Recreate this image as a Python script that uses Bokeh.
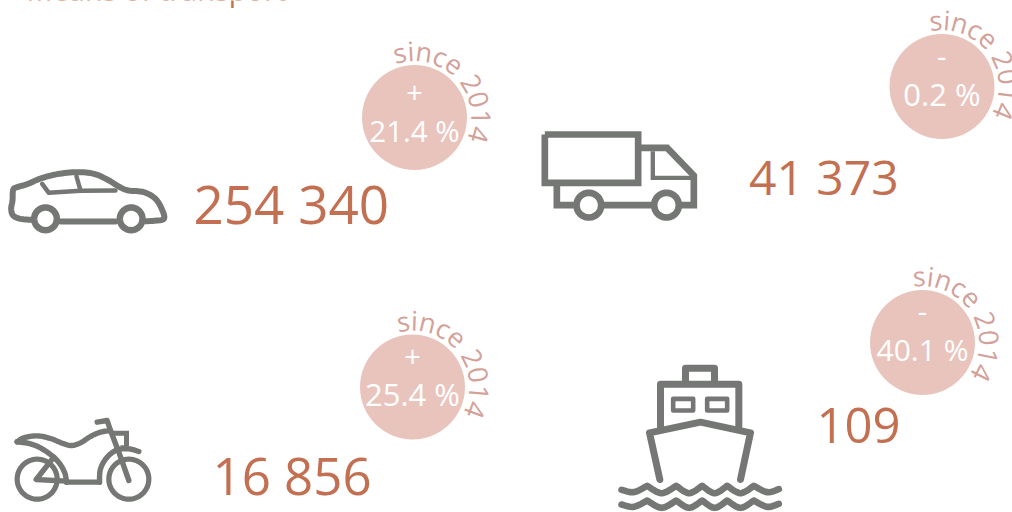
import math
from bokeh.plotting import figure
from bokeh.models import ColumnDataSource
from bokeh.core.properties import value
from bokeh.embed import file_html
from bokeh.resources import INLINE

# ---- data ----
title = "Means of transport"
categories = ["Cars", "Trucks", "Motorcycles", "Ships"]
counts = ["254 340", "41 373", "16 856", "109"]
signs = ["+", "-", "+", "-"]
changes = ["21.4 %", "0.2 %", "25.4 %", "40.1 %"]
since = "since 2014"

# ---- layout (pixels) ----
W, H = 1012, 512
FONT = value("Open Sans")
GREY, RUST, DISC, ARC = "#757775", "#c36f52", "#e9c4bd", "#d3a199"
BASE = 0.4  # how far the browser drops an alphabetic baseline, in ems
count_x = [193, 748.5, 212, 816]
count_y = [224, 195.5, 494.5, 445]
count_size = [53, 48, 51, 49]
disc_x = [414, 941.5, 412, 922]
disc_y = [117, 86, 386.5, 342]
disc_r = 52.5
sign_dy = [-25, -30, -30.5, -31]
change_dy = [25, 20, 19.5, 19]
change_size = [29.5, 31, 31, 30]
arc_start = [-13, -5.5, -8, -3]
arc_end = [105, 112, 110, 117]
arc_size = 27

p = figure(width=W, height=H, x_range=(0, W), y_range=(H, 0), output_backend="svg",
           toolbar_location=None, min_border=0, outline_line_color=None,
           background_fill_color="white", border_fill_color="white")
p.axis.visible = False
p.grid.visible = False


def smooth(pts, n=8):
    out = []
    P = [pts[0]] + list(pts) + [pts[-1]]
    for i in range(1, len(P) - 2):
        a, b, c, d = P[i - 1], P[i], P[i + 1], P[i + 2]
        for k in range(n):
            t = k / n
            out.append(tuple(0.5 * (2 * b[j] + (c[j] - a[j]) * t + (2 * a[j] - 5 * b[j] + 4 * c[j] - d[j]) * t * t
                                    + (3 * b[j] - a[j] - 3 * c[j] + d[j]) * t ** 3) for j in (0, 1)))
    out.append(tuple(pts[-1]))
    return out


def stroke(pts, origin, width, join="round", cap="round"):
    xs = [origin[0] + q[0] / 3 for q in pts]
    ys = [origin[1] + q[1] / 3 for q in pts]
    p.line(xs, ys, line_color=GREY, line_width=width, line_join=join, line_cap=cap)


def ring(cx, cy, r, origin, width):
    pts = [(cx + r * math.cos(a * math.pi / 30), cy + r * math.sin(a * math.pi / 30)) for a in range(61)]
    stroke(pts, origin, width)


# ---- car ----
o = (0, 150)
stroke(smooth([(95, 208), (60, 205), (38, 195), (32, 175), (36, 150), (38, 118), (50, 110), (80, 101), (120, 84),
               (170, 71), (230, 65), (280, 70), (320, 87), (360, 111), (385, 120), (430, 125), (465, 145),
               (485, 178), (490, 205), (460, 211), (435, 212)]), o, 6)
stroke([(180, 213), (345, 213)], o, 6)
stroke([(125, 100), (145, 127), (240, 121), (345, 120)], o, 4.5)
stroke([(228, 78), (240, 120)], o, 4.5)
ring(135, 205, 34, o, 6.5)
ring(392, 205, 34, o, 6.5)

# ---- truck ----
o = (530, 120)
stroke([(43, 42), (323, 42), (323, 187), (43, 187), (43, 42)], o, 6.7, "miter", "butt")
stroke([(79, 187), (79, 254), (130, 254)], o, 6.7, "miter", "butt")
stroke([(220, 254), (365, 254)], o, 6.7, "miter", "butt")
stroke([(450, 254), (490, 254), (490, 165), (410, 82), (323, 82)], o, 6.7, "miter", "butt")
stroke([(367, 92), (367, 172), (490, 172)], o, 4.4, "miter", "butt")
ring(175, 254, 37, o, 6.7)
ring(408, 254, 37, o, 6.7)

# ---- motorcycle ----
o = (0, 410)
ring(110, 206, 60, o, 5.2)
ring(385, 206, 60, o, 5.2)
stroke(smooth([(50, 94), (70, 82), (110, 76), (150, 84), (185, 98), (213, 105), (240, 97), (270, 78), (300, 65),
               (330, 60)]), o, 5.4)
stroke([(290, 35), (320, 30), (330, 60), (355, 125), (385, 210)], o, 5.4)
stroke(smooth([(50, 94), (90, 100), (130, 118), (170, 150), (192, 185), (198, 215)]), o, 5.4)
stroke([(160, 140), (107, 207), (198, 212)], o, 5.4)
stroke([(198, 215), (297, 215)], o, 5.4)
stroke(smooth([(297, 215), (300, 175), (320, 140), (350, 118), (385, 115), (415, 123)]), o, 5.4)
stroke([(335, 68), (378, 68), (378, 112), (360, 112)], o, 5, "miter", "butt")

# ---- ship ----
o = (610, 355)
stroke([(225, 76), (225, 38), (312, 38), (312, 76)], o, 7)
stroke([(150, 212), (150, 86), (385, 86), (385, 212)], o, 7)
stroke([(188, 130), (248, 130), (248, 165), (188, 165), (188, 130)], o, 4.6)
stroke([(290, 130), (350, 130), (350, 165), (290, 165), (290, 130)], o, 4.6)
stroke([(148, 372), (117, 232), (270, 200), (420, 232), (390, 372)], o, 7)
crests = [110, 197, 275, 350, 430]
for dy in (0, 44):
    wave = smooth([(33, 403 + dy), (70, 410 + dy), (crests[0], 391 + dy)])
    for c0, c1 in zip(crests, crests[1:]):
        wave += smooth([(c0, 391 + dy), ((c0 + c1) / 2, 413 + dy), (c1, 391 + dy)])
    wave += smooth([(crests[-1], 391 + dy), (470, 410 + dy), (505, 401 + dy)])
    stroke(wave, o, 6.6)

# ---- discs ----
p.scatter(disc_x, disc_y, size=2 * disc_r, marker="circle", fill_color=DISC, line_color=None)

# ---- texts ----
p.text([26], [1 - BASE * 29], text=[title], text_font=FONT, text_font_size="29px", text_color=RUST,
       text_baseline="alphabetic", text_align="left")
p.text(count_x, [y - BASE * s for y, s in zip(count_y, count_size)], text=counts, text_font=FONT,
       text_font_size=[f"{s}px" for s in count_size], text_color=RUST,
       text_baseline="alphabetic", text_align="left")
p.text(disc_x, [y + d for y, d in zip(disc_y, sign_dy)], text=signs, text_font=FONT, text_font_size="29px",
       text_color="white", text_baseline="middle", text_align="center")
p.text(disc_x, [y + d - BASE * s for y, d, s in zip(disc_y, change_dy, change_size)], text=changes, text_font=FONT,
       text_font_size=[f"{s}px" for s in change_size], text_color="white",
       text_baseline="alphabetic", text_align="center")

# per-glyph placement along each disc's rim
adv = {"s": .477, "i": .253, "n": .613, "c": .476, "e": .561, " ": .26, "2": .572, "0": .572, "1": .572, "4": .572}
centres, run = [], 0
for ch in since:
    centres.append(run + adv[ch] / 2)
    run += adv[ch]
R = 56 + BASE * arc_size
for cx, cy, a0, a1 in zip(disc_x, disc_y, arc_start, arc_end):
    th = [a0 + (a1 - a0) * (c - centres[0]) / (centres[-1] - centres[0]) for c in centres]
    src = ColumnDataSource(dict(
        x=[cx + R * math.sin(math.radians(t)) for t in th],
        y=[cy - R * math.cos(math.radians(t)) for t in th],
        t=list(since),
        a=[-math.radians(t) for t in th]))
    p.text("x", "y", text="t", angle="a", source=src, text_font=FONT, text_font_size=f"{arc_size}px",
           text_color=ARC, text_baseline="alphabetic", text_align="center")

open("out.html", "w").write(file_html(p, INLINE))
